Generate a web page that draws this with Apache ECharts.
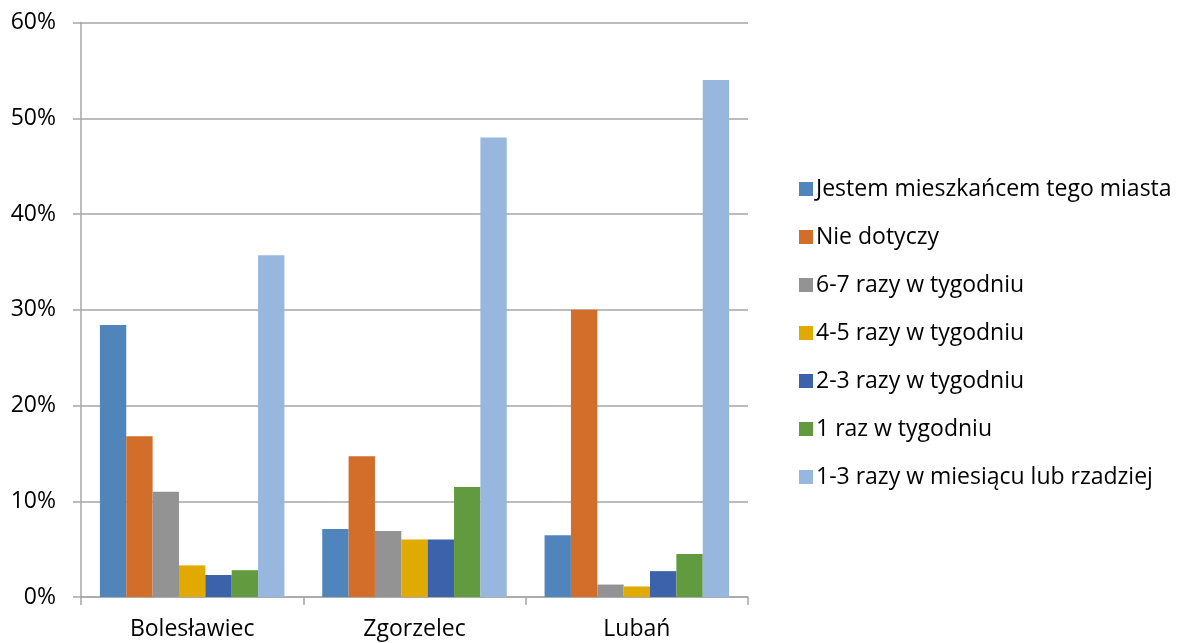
<!DOCTYPE html>
<html><head><meta charset="utf-8">
<script src="https://cdn.jsdelivr.net/npm/echarts@6/dist/echarts.min.js"></script>
<style>html,body{margin:0;padding:0;background:#fff}#c{width:1180px;height:643px}</style>
</head><body><div id="c"></div>
<script>
const categories = ['Bolesławiec', 'Zgorzelec', 'Lubań'];
const seriesNames = ['Jestem mieszkańcem tego miasta', 'Nie dotyczy', '6-7 razy w tygodniu', '4-5 razy w tygodniu', '2-3 razy w tygodniu', '1 raz w tygodniu', '1-3 razy w miesiącu lub rzadziej'];
const jestem = [28.4, 7.1, 6.45];
const nieDotyczy = [16.8, 14.7, 30.0];
const r67 = [11.0, 6.9, 1.3];
const r45 = [3.3, 6.0, 1.1];
const r23 = [2.3, 6.0, 2.7];
const r1 = [2.8, 11.5, 4.5];
const r13m = [35.7, 48.0, 54.0];
const colors = ['#5085BC', '#D36E2A', '#939393', '#E0AA00', '#3B62AB', '#629B3F', '#97B7DE'];
const allData = [jestem, nieDotyczy, r67, r45, r23, r1, r13m];
const font = '"Open Sans", "Noto Sans", sans-serif';
const chart = echarts.init(document.getElementById('c'));
chart.setOption({
  animation: false,
  color: colors,
  grid: {left: 81, right: 432, top: 22.5, bottom: 46},
  legend: {
    orient: 'vertical', left: 794, top: 172, itemWidth: 14, itemHeight: 14, itemGap: 24,
    icon: 'rect',
    textStyle: {fontFamily: font, fontSize: 23, color: '#000', lineHeight: 24, padding: [0, 0, 0, -2]},
    data: seriesNames
  },
  xAxis: {
    type: 'category', data: categories,
    axisLine: {lineStyle: {color: '#a6a6a6', width: 1.5}},
    axisTick: {show: true, length: 8, lineStyle: {color: '#a6a6a6', width: 1.5}},
    axisLabel: {fontFamily: font, fontSize: 23, color: '#000', margin: 21}
  },
  yAxis: {
    type: 'value', min: 0, max: 60, interval: 10,
    axisLine: {show: true, lineStyle: {color: '#a6a6a6', width: 1.5}},
    axisTick: {show: true, length: 8, lineStyle: {color: '#a6a6a6', width: 1.5}},
    splitLine: {lineStyle: {color: '#a6a6a6', width: 1.5}},
    axisLabel: {fontFamily: font, fontSize: 23, color: '#000', margin: 25, formatter: '{value}%'}
  },
  series: seriesNames.map((n, i) => ({
    name: n, type: 'bar', data: allData[i], barGap: '0%', barCategoryGap: '17%'
  }))
});
</script></body></html>
